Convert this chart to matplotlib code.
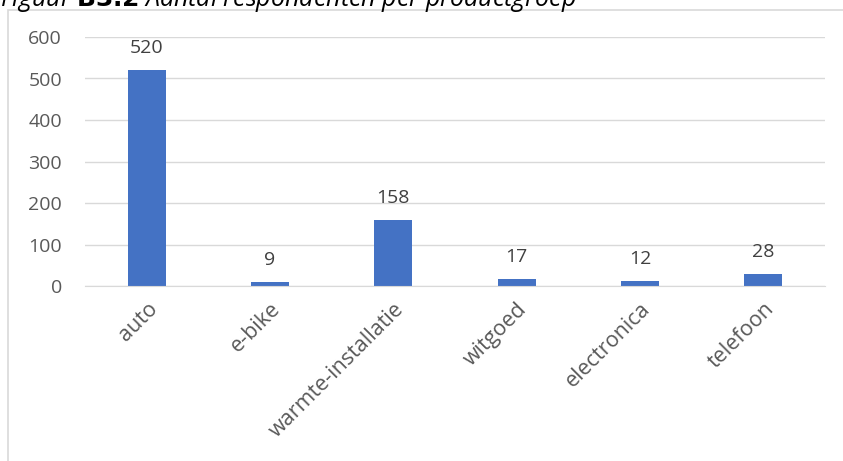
import matplotlib
matplotlib.use("Agg")
import matplotlib.pyplot as plt
from matplotlib.patches import Rectangle

categories = ["auto", "e-bike", "warmte-installatie", "witgoed", "electronica", "telefoon"]
values = [520, 9, 158, 17, 12, 28]
yticks = [0, 100, 200, 300, 400, 500, 600]

plt.rcParams['font.family'] = ['Open Sans', 'DejaVu Sans']

W, H = 843, 461
fig = plt.figure(figsize=(W/100, H/100), dpi=100)

# chart frame
fig.patches.append(Rectangle((8/W, -0.1), 1.2, (H - 10)/H + 0.1, transform=fig.transFigure,
                             fill=False, edgecolor='#d9d9d9', linewidth=1.2))

fig.text(0.0, 1 - 6/H, "Figuur $\\bf{B3.2}$ Aantal respondenten per productgroep", fontsize=18,
         style='italic', va='baseline', ha='left', color='#000000')

ax = fig.add_axes([85/W, (H-286)/H, (825-85)/W, (286-37)/H])
x = range(len(categories))
bars = ax.bar(x, values, width=0.31, color='#4472C4', zorder=3)
ax.set_xlim(-0.5, len(categories) - 0.5)
ax.set_ylim(0, 600)
ax.set_yticks(yticks)
ax.set_yticklabels([str(v) for v in yticks], fontsize=14, color='#595959')
ax.set_xticks(list(x))
ax.set_xticklabels(categories, rotation=45, ha='right', rotation_mode='anchor', fontsize=15.5, color='#595959')
ax.tick_params(axis='both', length=0)
ax.tick_params(axis='y', pad=16.5)
ax.tick_params(axis='x', pad=9)
ax.grid(axis='y', color='#d9d9d9', linewidth=1, zorder=0)
for s in ['top', 'right', 'left']:
    ax.spines[s].set_visible(False)
ax.spines['bottom'].set_color('#d9d9d9')
ax.spines['bottom'].set_zorder(4)

for i, v in enumerate(values):
    ax.annotate(str(v), (i, v), xytext=(0, 9.5), textcoords='offset points', ha='center', va='bottom',
                fontsize=14, color='#404040')

fig.savefig("out.png", dpi=100)
